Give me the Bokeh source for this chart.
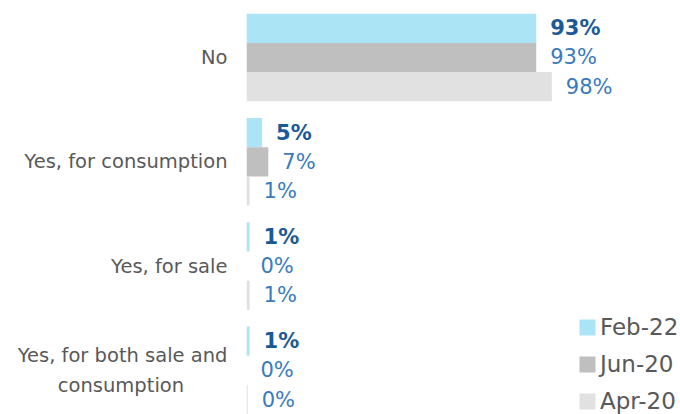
from bokeh.plotting import figure
from bokeh.models import ColumnDataSource, FixedTicker, Range1d, Legend, LegendItem
from bokeh.transform import dodge
from bokeh.core.properties import value
from bokeh.embed import file_html
from bokeh.resources import INLINE

categories = ["No", "Yes, for consumption", "Yes, for sale",
              "Yes, for both sale and\nconsumption" + "\u00a0" * 7]
series = ["Feb-22", "Jun-20", "Apr-20"]
feb22 = [93, 5, 1, 1]
jun20 = [93, 7, 0, 0]
apr20 = [98, 1, 1, 0.4]

colors = ["#ABE4F5", "#BFBFBF", "#E1E1E1"]
label_colors = ["#1B5A98", "#3A7BBD", "#3A7BBD"]
label_styles = ["bold", "normal", "normal"]
offsets = [0.28, 0.0, -0.28]
FONT = "DejaVu Sans"

ypos = list(range(len(categories) - 1, -1, -1))
data = dict(ypos=ypos)
cols = ["feb", "jun", "apr"]
for c, vals in zip(cols, [feb22, jun20, apr20]):
    data[c] = vals
    data[c + "_lbl"] = [f"{round(v)}%" for v in vals]
source = ColumnDataSource(data)

p = figure(width=680, height=414, output_backend="svg", toolbar_location=None,
           x_range=Range1d(0, 139.3), y_range=Range1d(-0.423, 3.5465),
           min_border_left=246, min_border_right=0, min_border_top=0, min_border_bottom=0,
           x_axis_location=None)
p.outline_line_color = None
p.xgrid.visible = False
p.ygrid.visible = False

ax = p.yaxis[0]
ax.ticker = FixedTicker(ticks=ypos)
ax.major_label_overrides = {y: c for y, c in zip(ypos, categories)}
ax.axis_line_color = None
ax.major_tick_line_color = None
ax.minor_tick_line_color = None
ax.major_tick_out = 0
ax.major_tick_in = 0
ax.major_label_standoff = 19
ax.major_label_text_font = FONT
ax.major_label_text_font_size = "19.5px"
ax.major_label_text_color = "#595959"
ax.major_label_text_line_height = 1.3

items = []
for name, c, col, lc, st, off in zip(series, cols, colors, label_colors, label_styles, offsets):
    r = p.hbar(y=dodge("ypos", off), left=0, right=c, height=0.28, fill_color=col,
               line_color=None, source=source)
    p.text(x=c, y=dodge("ypos", off), text=c + "_lbl", x_offset=14, text_baseline="middle",
           text_align="left", text_font=value(FONT), text_font_size="21px",
           text_font_style=st, text_color=lc, source=source)
    items.append(LegendItem(label=name, renderers=[r]))

legend = Legend(items=items, location=(331, 0), orientation="vertical",
                glyph_width=20, glyph_height=20, label_standoff=3,
                label_text_font=FONT, label_text_font_size="23px", label_text_color="#595959",
                border_line_color=None, background_fill_alpha=0, padding=0, margin=0,
                spacing=11, label_height=26)
p.add_layout(legend)

open("out.html", "w").write(file_html(p, INLINE))
